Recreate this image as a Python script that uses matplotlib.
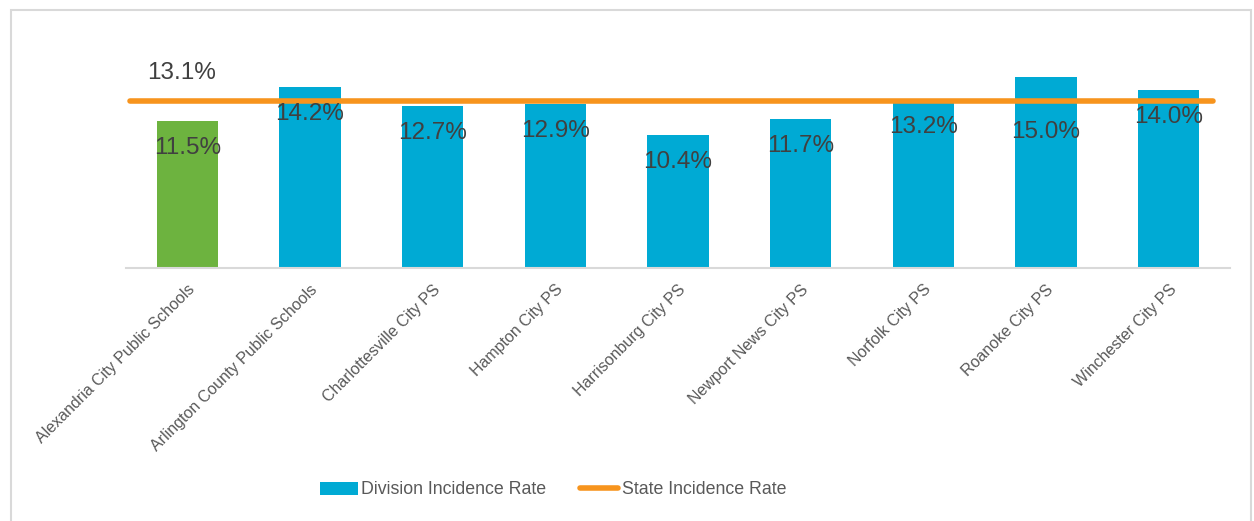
import matplotlib.pyplot as plt
from matplotlib.patches import Rectangle, Patch
from matplotlib.lines import Line2D

plt.rcParams['font.family'] = ['Liberation Sans', 'DejaVu Sans']

divisions = ['Alexandria City Public Schools', 'Arlington County Public Schools',
             'Charlottesville City PS', 'Hampton City PS', 'Harrisonburg City PS',
             'Newport News City PS', 'Norfolk City PS', 'Roanoke City PS',
             'Winchester City PS']
division_rate = [11.5, 14.2, 12.7, 12.9, 10.4, 11.7, 13.2, 15.0, 14.0]
state_rate = 13.1

blue = '#00AAD4'
green = '#6DB33F'
orange = '#F7941D'

fig = plt.figure(figsize=(12.54, 5.21), dpi=100)
fig.patches.append(Rectangle((11 / 1254, -0.01), 1240 / 1254, 1 - 10 / 521 + 0.01,
                             transform=fig.transFigure, fill=False,
                             edgecolor='#D9D9D9', linewidth=1.5))

ax = fig.add_axes([126 / 1254, (521 - 268) / 521, 1104 / 1254, 204 / 521])

x = list(range(len(divisions)))
colors = [green] + [blue] * (len(divisions) - 1)
ax.bar(x, division_rate, width=0.5, color=colors, zorder=2)

ax.axhline(state_rate, xmin=0.004, xmax=0.985, color=orange, linewidth=4,
           solid_capstyle='round', zorder=3)

# data labels inside the bar ends
for i, v in enumerate(division_rate):
    off = -55 if v > 14.5 else -27
    ax.annotate(f'{v:.1f}%', (i, v), xytext=(0, off), textcoords='offset pixels',
                ha='center', va='center', fontsize=17.5, color='#404040', zorder=4)

ax.annotate(f'{state_rate:.1f}%', (0, state_rate), xytext=(-6, 28),
            textcoords='offset pixels', ha='center', va='center',
            fontsize=17.5, color='#404040')

ax.set_xlim(-0.5, 8.5)
ax.set_ylim(0, 16)
ax.set_yticks([])
ax.set_xticks(x)
ax.set_xticklabels(divisions, rotation=45, ha='right', rotation_mode='anchor',
                   fontsize=11.5, color='#595959')
ax.tick_params(axis='x', length=0, pad=10)
for s in ['top', 'right', 'left']:
    ax.spines[s].set_visible(False)
ax.spines['bottom'].set_color('#D9D9D9')
ax.spines['bottom'].set_linewidth(1.5)

handles = [Patch(facecolor=blue, label='Division Incidence Rate'),
           Line2D([], [], color=orange, linewidth=4, solid_capstyle='round',
                  label='State Incidence Rate')]
fig.legend(handles=handles, loc='center', bbox_to_anchor=(553 / 1254, 1 - 490 / 521),
           ncol=2, frameon=False, fontsize=12.8, handlelength=2.15, handleheight=0.75,
           handletextpad=0.2, columnspacing=1.9, labelcolor='#595959')

fig.savefig('out.png', dpi=100)
